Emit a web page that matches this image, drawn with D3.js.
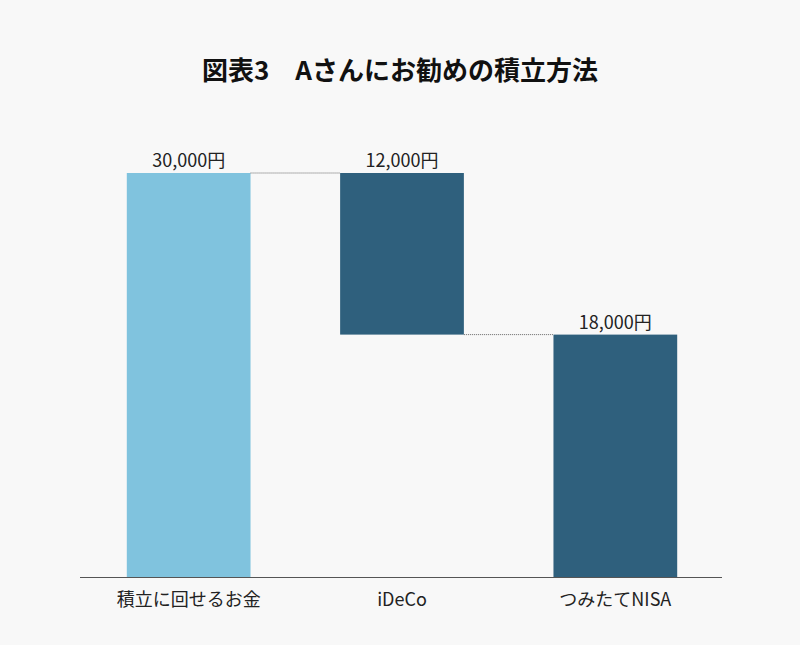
<!DOCTYPE html>
<html><head><meta charset="utf-8">
<script src="https://cdn.jsdelivr.net/npm/d3@7"></script>
<style>body{margin:0;background:#f8f8f8;font-family:"Noto Sans CJK JP","Noto Sans",sans-serif;}</style>
</head><body><svg id="c" width="800" height="645"></svg>
<script>
const categories = ["積立に回せるお金", "iDeCo", "つみたてNISA"];
const starts = [0, 18000, 0];
const ends = [30000, 30000, 18000];
const valueLabels = ["30,000円", "12,000円", "18,000円"];
const colors = ["#80c3de", "#2f607d", "#2f607d"];

const svg = d3.select("#c");
svg.append("rect").attr("width",800).attr("height",645).attr("fill","#f8f8f8");
svg.append("text").attr("x",400).attr("y",80).attr("text-anchor","middle")
  .attr("font-size",26).attr("font-weight","bold").attr("fill","#111")
  .text("図表3　Aさんにお勧めの積立方法");

const x = d3.scaleBand().domain(categories).range([82,722]).paddingInner(0.42).paddingOuter(0.21);
const y = d3.scaleLinear().domain([0,30000]).range([577,173]);

svg.selectAll("rect.bar").data(categories).enter().append("rect").attr("class","bar")
  .attr("x",d=>x(d)).attr("width",x.bandwidth())
  .attr("y",(d,i)=>y(ends[i])).attr("height",(d,i)=>y(starts[i])-y(ends[i]))
  .attr("fill",(d,i)=>colors[i]);

// connectors
for (let i=0;i<categories.length-1;i++){
  const lvl = i===0 ? ends[0] : starts[1];
  svg.append("line").attr("x1",x(categories[i])+x.bandwidth()).attr("x2",x(categories[i+1]))
    .attr("y1",y(lvl)).attr("y2",y(lvl)).attr("stroke","#666").attr("stroke-width",1)
    .attr("stroke-dasharray","1,1");
}

svg.selectAll("text.v").data(categories).enter().append("text").attr("class","v")
  .attr("x",d=>x(d)+x.bandwidth()/2).attr("y",(d,i)=>y(ends[i])-6)
  .attr("text-anchor","middle").attr("font-size",18).attr("fill","#222")
  .text((d,i)=>valueLabels[i]);

const ax = svg.append("g").attr("transform","translate(0,577)")
  .call(d3.axisBottom(x).tickSize(0).tickPadding(16));
ax.select(".domain").attr("stroke","#555").attr("d","M80,0.5H722");
ax.selectAll("text").attr("font-size",18).attr("fill","#222")
  .attr("font-family","'Noto Sans CJK JP','Noto Sans',sans-serif");
</script></body></html>
